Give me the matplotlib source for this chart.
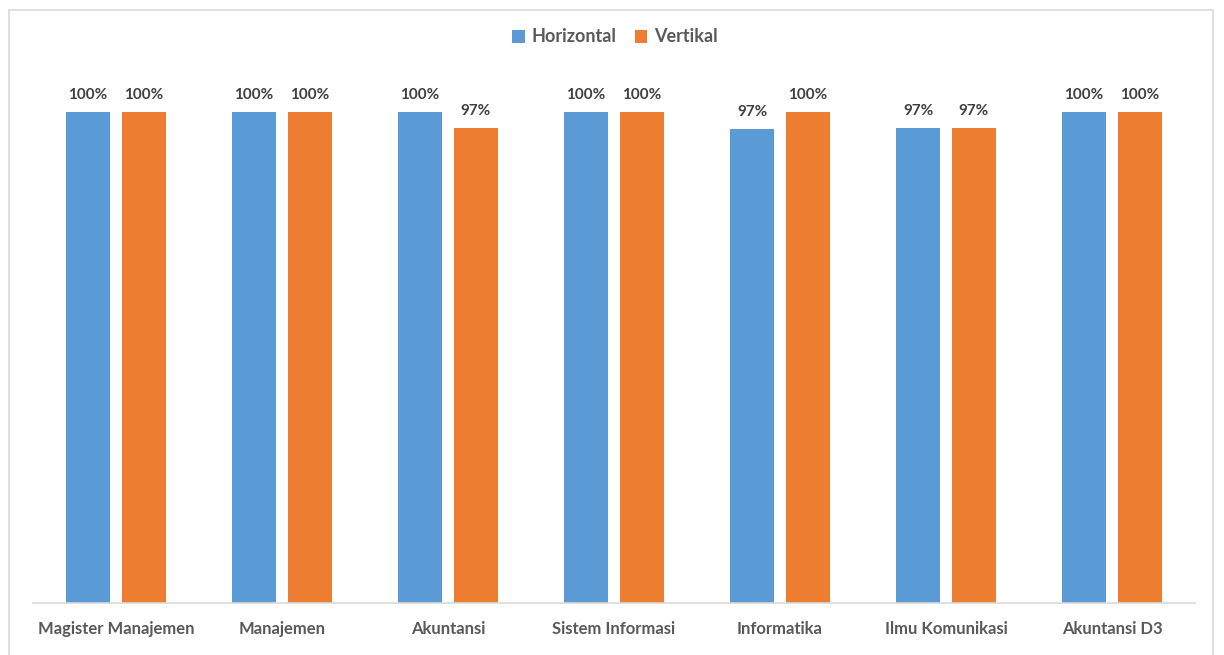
import numpy as np
import matplotlib
matplotlib.use("Agg")
from matplotlib import pyplot as plt
from matplotlib.patches import Rectangle

categories = ["Magister Manajemen", "Manajemen", "Akuntansi", "Sistem Informasi",
              "Informatika", "Ilmu Komunikasi", "Akuntansi D3"]
horizontal = [100, 100, 100, 100, 96.6, 96.8, 100]
vertikal = [100, 100, 96.8, 100, 100, 96.8, 100]

plt.rcParams['font.family'] = ['Lato', 'DejaVu Sans']
blue = "#5B9BD5"
orange = "#ED7D31"

fig = plt.figure(figsize=(12.24, 6.55), dpi=100)
# light frame around the chart
fig.patches.append(Rectangle((9/1224, -0.05), 1204/1224, 1 - 10/655 + 0.05,
                             transform=fig.transFigure, fill=False,
                             edgecolor="#D9D9D9", linewidth=1.2))
ax = fig.add_axes([33/1224, 1 - 603/655, 1162/1224, (603 - 112)/655])

x = np.arange(len(categories))
w = 0.265
off = w/2 + 0.036
b1 = ax.bar(x - off, horizontal, w, color=blue, label="Horizontal")
b2 = ax.bar(x + off, vertikal, w, color=orange, label="Vertikal")

for bars, vals in [(b1, horizontal), (b2, vertikal)]:
    for r, v in zip(bars, vals):
        ax.annotate("%.0f%%" % v, (r.get_x() + r.get_width()/2, v),
                    xytext=(0, 7), textcoords="offset points", ha="center",
                    va="bottom", fontsize=11, fontweight="bold", color="#404040",
                    annotation_clip=False)

ax.set_xlim(-0.5, len(categories) - 0.5)
ax.set_ylim(0, 100)
ax.set_xticks(x)
ax.set_xticklabels(categories, fontsize=12, fontweight="bold", color="#595959")
ax.tick_params(axis="x", length=0, pad=13)
ax.set_yticks([])
for s in ["top", "right", "left"]:
    ax.spines[s].set_visible(False)
ax.spines["bottom"].set_color("#D9D9D9")
ax.spines["bottom"].set_linewidth(1.2)

leg = fig.legend(loc="center", bbox_to_anchor=(615/1224, 1 - 37/655), ncol=2,
                 frameon=False, handlelength=0.7, handleheight=0.7,
                 handletextpad=0.4, columnspacing=1.0,
                 prop={"size": 13, "weight": "bold"})
for t in leg.get_texts():
    t.set_color("#595959")

fig.savefig("out.png", dpi=100)
